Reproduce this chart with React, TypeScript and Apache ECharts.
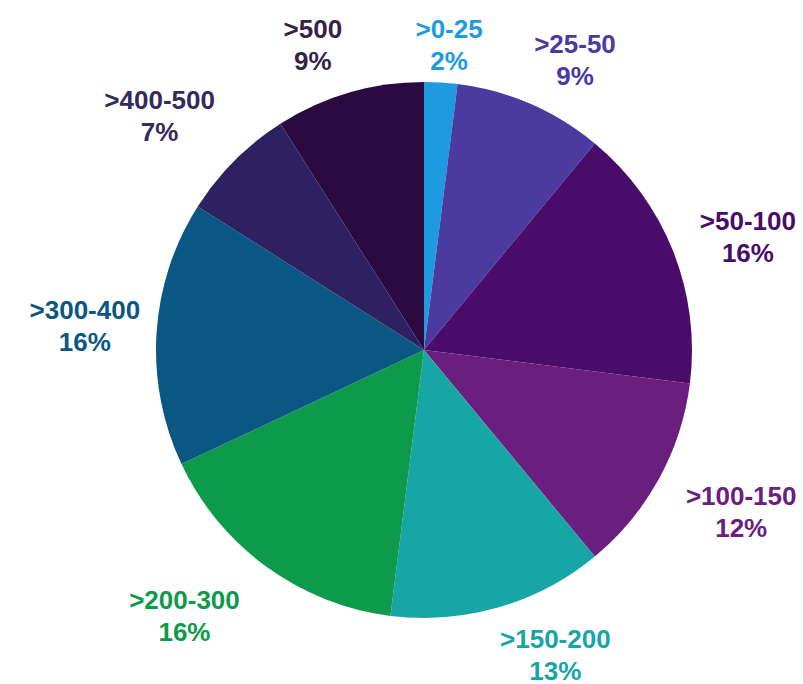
import React, { useEffect, useRef } from "react";
import * as echarts from "echarts";

const categories = [">0-25", ">25-50", ">50-100", ">100-150", ">150-200", ">200-300", ">300-400", ">400-500", ">500"];
const shares = [2, 9, 16, 12, 13, 16, 16, 7, 9];
const colors = ["#1E9BE0", "#4B3A9F", "#4A0C6A", "#6A1E7E", "#17A5A5", "#0E9A4B", "#0B5783", "#2E2161", "#2A0A40"];
const labelColors = ["#1E9BE0", "#4B3A9F", "#4A0C6A", "#6A1E7E", "#17A5A5", "#0E9A4B", "#0B5783", "#342A5E", "#362348"];

// label placement (layout only): distance of label centre from pie centre, and angular nudge in degrees
const labelDistance = [306, 327, 343, 356, 332, 358, 340, 353, 325];
const labelAngleNudge = [1.1, 4.1, 2.4, -1.8, -7.1, 6, 0.4, -3.5, -3.8];

const CX = 424;
const CY = 350;
const R = 268;

export default function App() {
  const ref = useRef<HTMLDivElement>(null);
  useEffect(() => {
    if (!ref.current) return;
    const chart = echarts.init(ref.current, undefined, { renderer: "svg" });
    const total = shares.reduce((a, b) => a + b, 0);
    const mids: number[] = [];
    let acc = 0;
    shares.forEach((v) => {
      mids.push(((acc + v / 2) / total) * Math.PI * 2);
      acc += v;
    });
    chart.setOption({
      animation: false,
      backgroundColor: "#ffffff",
      series: [
        {
          type: "pie",
          center: [CX, CY],
          radius: R,
          startAngle: 90,
          clockwise: true,
          data: categories.map((c, i) => ({
            name: c,
            value: shares[i],
            itemStyle: { color: colors[i] },
            label: { color: labelColors[i] },
          })),
          label: {
            show: true,
            position: "outside",
            formatter: (p: any) => `${p.name}\n${p.value}%`,
            fontFamily: "Liberation Sans, Arial, sans-serif",
            fontWeight: "bold",
            fontSize: 26,
            lineHeight: 32,
            align: "center",
            overflow: "none",
            width: 200,
          },
          labelLine: { show: false },
          labelLayout: (params: any) => {
            const i = params.dataIndex;
            const a = mids[i] + (labelAngleNudge[i] * Math.PI) / 180;
            const d = labelDistance[i];
            return {
              x: CX + d * Math.sin(a),
              y: CY - d * Math.cos(a),
              align: "center",
              verticalAlign: "middle",
            };
          },
        },
      ],
    });
    return () => chart.dispose();
  }, []);
  return (
    <div
      ref={ref}
      style={{ position: "fixed", left: 0, top: 0, width: 803, height: 684 }}
    />
  );
}
